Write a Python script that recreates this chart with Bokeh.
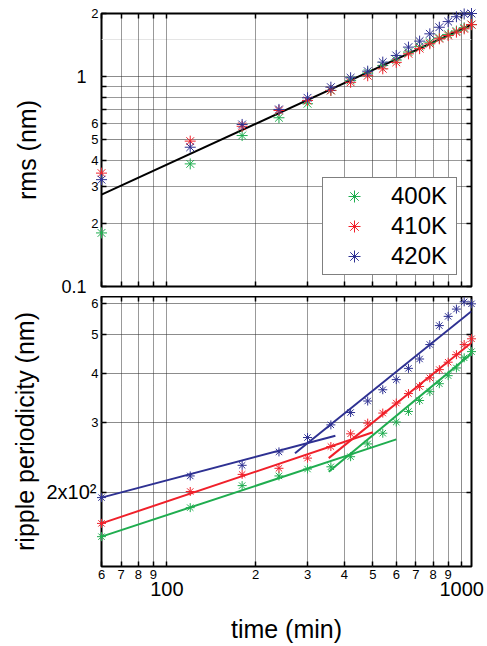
from bokeh.plotting import figure
from bokeh.layouts import column
from bokeh.models import Range1d, LogAxis, FixedTicker, Legend, LegendItem, Grid
from bokeh.embed import file_html
from bokeh.resources import INLINE

# ---------------- data ----------------
times = [60, 120, 180, 240, 300, 360, 420, 480, 540, 600,
         660, 720, 780, 840, 900, 960, 1020, 1080]

rms_400K = [0.180, 0.384, 0.524, 0.637, 0.743, 0.860, 0.960, 1.040, 1.130, 1.200,
            1.310, 1.390, 1.460, 1.530, 1.590, 1.650, 1.710, 1.770]
rms_410K = [0.347, 0.493, 0.580, 0.690, 0.770, 0.860, 0.940, 1.010, 1.090, 1.170,
            1.285, 1.360, 1.435, 1.515, 1.570, 1.630, 1.690, 1.770]
rms_420K = [0.323, 0.461, 0.592, 0.698, 0.793, 0.891, 0.988, 1.062, 1.173, 1.262,
            1.383, 1.477, 1.600, 1.720, 1.830, 1.930, 1.990, 2.000]
rms_fit_time = [60, 1080]
rms_fit = [0.274, 1.77]

period_400K = [154.6, 183, 208, 220, 229, 232, 246, 265, 282, 301,
               320, 341, 359, 376, 394, 412, 437, 453]
period_410K = [167, 201, 222, 230, 244, 261, 281, 299, 317, 336,
               355, 370, 389, 408, 426, 445, 472, 488]
period_420K = [194, 220, 234, 253, 275, 296, 318, 340, 363, 385,
               411, 434, 472, 527, 556, 580, 605, 598]

fit_400K_early_time = [60, 600]
fit_400K_early = [154.6, 272]
fit_400K_late_time = [354, 1080]
fit_400K_late = [225.5, 448]
fit_410K_early_time = [60, 500]
fit_410K_early = [167, 283.5]
fit_410K_late_time = [354, 1080]
fit_410K_late = [244, 477]
fit_420K_early_time = [60, 373]
fit_420K_early = [194, 278]
fit_420K_late_time = [272, 1080]
fit_420K_late = [251, 573]

series_names = ["400K", "410K", "420K"]
colors = ["#1fad4f", "#f0202a", "#2e3192"]

x_ticks = [60, 70, 80, 90, 100, 200, 300, 400, 500, 600, 700, 800, 900, 1000]
x_tick_labels = ["6", "7", "8", "9", "", "2", "3", "4", "5", "6", "7", "8", "9", ""]
x_decade_ticks = [100, 1000]
x_decade_labels = ["100", "1000"]

rms_ticks = [0.1, 0.2, 0.3, 0.4, 0.5, 0.6, 0.7, 0.8, 0.9, 1.0, 2.0]
rms_tick_labels = ["", "2", "3", "4", "5", "6", "", "", "", "", "2"]
rms_big_ticks = [0.1, 1.0]
rms_big_labels = ["0.1", "1"]

period_ticks = [200, 300, 400, 500, 600]
period_tick_labels = ["", "3", "4", "5", "6"]
period_big_ticks = [200]
period_big_labels = ["2x10\u00b2"]

FONT = "Liberation Sans"
W = 487
TOP_H = 296


def tick_only_axis(ticks):
    return LogAxis(ticker=FixedTicker(ticks=ticks), major_tick_in=5, major_tick_out=0,
                   major_tick_line_color="black", major_tick_line_width=1.5,
                   minor_tick_line_color=None, axis_line_color=None,
                   major_label_overrides={t: "" for t in ticks},
                   major_label_text_font_size="10px", major_label_standoff=0)


def style_panel(p, yticks, ylabels, big_ticks, big_labels, big_size, big_standoff,
                ytitle, title_standoff):
    p.outline_line_color = "black"
    p.outline_line_width = 2
    p.add_layout(Grid(dimension=0, ticker=FixedTicker(ticks=x_ticks),
                      grid_line_color="#333333", grid_line_dash="1 1", grid_line_width=1))
    p.add_layout(Grid(dimension=1, ticker=FixedTicker(ticks=yticks),
                      grid_line_color="#333333", grid_line_dash="1 1", grid_line_width=1))
    small = LogAxis(ticker=FixedTicker(ticks=yticks),
                    major_label_overrides=dict(zip(yticks, ylabels)),
                    major_label_text_font=FONT, major_label_text_font_size="13px",
                    major_label_text_color="black", major_label_standoff=3,
                    major_tick_in=5, major_tick_out=0, major_tick_line_width=1.5,
                    major_tick_line_color="black",
                    minor_tick_line_color=None, axis_line_color=None)
    p.add_layout(small, "left")
    big = LogAxis(ticker=FixedTicker(ticks=big_ticks),
                  major_label_overrides=dict(zip(big_ticks, big_labels)),
                  major_label_text_font=FONT, major_label_text_font_size=big_size,
                  major_label_text_color="black", major_label_standoff=big_standoff,
                  major_tick_in=0, major_tick_out=0, major_tick_line_color=None,
                  minor_tick_line_color=None, axis_line_color=None,
                  axis_label=ytitle, axis_label_text_font=FONT,
                  axis_label_text_font_size="25px", axis_label_text_font_style="normal",
                  axis_label_text_color="black", axis_label_standoff=title_standoff)
    p.add_layout(big, "left")
    p.add_layout(tick_only_axis(yticks), "right")
    p.add_layout(tick_only_axis(x_ticks), "above")


# ---------------- top panel ----------------
p1 = figure(width=W, height=TOP_H, x_axis_type="log", y_axis_type="log",
            x_range=Range1d(60, 1080), y_range=Range1d(0.1, 2),
            x_axis_location=None, y_axis_location=None,
            output_backend="svg", toolbar_location=None,
            min_border_left=101, min_border_right=16, min_border_top=13,
            min_border_bottom=TOP_H - 286)
style_panel(p1, rms_ticks, rms_tick_labels, rms_big_ticks, rms_big_labels, "18px", 2,
            "rms (nm)", 17)
p1.add_layout(tick_only_axis(x_ticks), "below")

p1.line(rms_fit_time, rms_fit, line_color="black", line_width=2)
rms_series = [rms_400K, rms_410K, rms_420K]
top_renderers = []
for vals, c in zip(rms_series, colors):
    r = p1.scatter(times, vals, marker="asterisk", size=11, line_color=c, line_width=1,
                   level="overlay")
    top_renderers.append(r)

legend = Legend(items=[LegendItem(label=n, renderers=[r]) for n, r in zip(series_names, top_renderers)],
                location=(221, 11), orientation="vertical",
                label_text_font=FONT, label_text_font_size="24px", label_text_color="black",
                glyph_height=30, glyph_width=56, label_height=30, label_width=62,
                label_standoff=9, spacing=0, padding=3, margin=0,
                border_line_color="black", border_line_width=1,
                background_fill_color="white", background_fill_alpha=1)
p1.add_layout(legend)

# ---------------- bottom panel ----------------
p2 = figure(width=W, height=646 - TOP_H, x_axis_type="log", y_axis_type="log",
            x_range=Range1d(60, 1080), y_range=Range1d(130, 624),
            x_axis_location=None, y_axis_location=None,
            output_backend="svg", toolbar_location=None,
            min_border_left=101, min_border_right=16, min_border_top=0, min_border_bottom=80)
style_panel(p2, period_ticks, period_tick_labels, period_big_ticks, period_big_labels, "20px", -8,
            "ripple periodicity (nm)", 4)

bottom1 = LogAxis(ticker=FixedTicker(ticks=x_ticks),
                  major_label_overrides=dict(zip(x_ticks, x_tick_labels)),
                  major_label_text_font=FONT, major_label_text_font_size="13px",
                  major_label_text_color="black", major_label_standoff=3,
                  major_tick_in=5, major_tick_out=0, major_tick_line_width=1.5,
                  major_tick_line_color="black",
                  minor_tick_line_color=None, axis_line_color=None)
p2.add_layout(bottom1, "below")
bottom2 = LogAxis(ticker=FixedTicker(ticks=x_decade_ticks),
                  major_label_overrides=dict(zip(x_decade_ticks, x_decade_labels)),
                  major_label_text_font=FONT, major_label_text_font_size="20px",
                  major_label_text_color="black", major_label_standoff=0,
                  major_tick_in=0, major_tick_out=0, major_tick_line_color=None,
                  minor_tick_line_color=None, axis_line_color=None,
                  axis_label="time (min)", axis_label_text_font=FONT,
                  axis_label_text_font_size="25px", axis_label_text_font_style="normal",
                  axis_label_text_color="black", axis_label_standoff=16)
p2.add_layout(bottom2, "below")

period_series = [period_400K, period_410K, period_420K]
fits = [
    [(fit_400K_early_time, fit_400K_early), (fit_400K_late_time, fit_400K_late)],
    [(fit_410K_early_time, fit_410K_early), (fit_410K_late_time, fit_410K_late)],
    [(fit_420K_early_time, fit_420K_early), (fit_420K_late_time, fit_420K_late)],
]
for vals, segs, c in zip(period_series, fits, colors):
    for fx, fy in segs:
        p2.line(fx, fy, line_color=c, line_width=2)
    p2.scatter(times, vals, marker="asterisk", size=9, line_color=c, line_width=1,
               level="overlay")

layout = column(p1, p2, spacing=0)
open("out.html", "w").write(file_html(layout, INLINE))
